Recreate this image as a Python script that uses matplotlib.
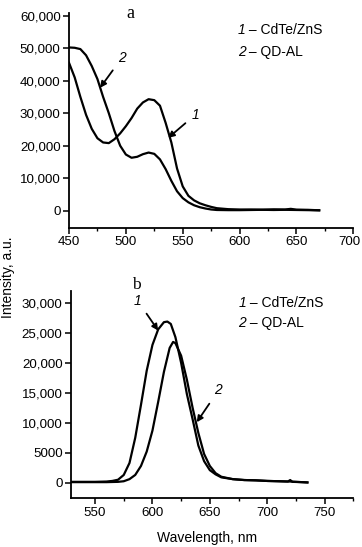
import matplotlib
matplotlib.use("Agg")
import matplotlib.pyplot as plt
import matplotlib.transforms as mtrans
from matplotlib.ticker import MultipleLocator

plt.rcParams["font.family"] = ["Liberation Sans", "DejaVu Sans"]

# --- panel a: absorption ---
abs_wl_1 = [450, 455, 460, 465, 470, 475, 480, 485, 490, 495, 500, 505, 510, 515,
            520, 525, 530, 535, 540, 545, 550, 555, 560, 565, 570, 575, 580, 590,
            600, 610, 620, 630, 640, 645, 650, 660, 670]
abs_cdte = [45500, 41000, 35000, 29500, 25200, 22300, 21000, 20800, 22000, 23800,
            26000, 28500, 31400, 33300, 34300, 34000, 32300, 27000, 21000, 13000,
            7500, 4600, 3200, 2300, 1700, 1200, 800, 500, 400, 400, 350, 450, 400,
            600, 350, 300, 150]
abs_wl_2 = [450, 455, 460, 465, 470, 475, 480, 485, 490, 495, 500, 505, 510, 515,
            520, 525, 530, 535, 540, 545, 550, 555, 560, 565, 570, 575, 580, 590,
            600, 610, 620, 630, 640, 650, 660, 670]
abs_qdal = [50200, 50100, 49700, 47800, 44500, 40500, 35000, 30000, 24500, 20000,
            17300, 16300, 16600, 17400, 17900, 17500, 15800, 12800, 9200, 6000,
            3900, 2600, 1700, 1100, 700, 400, 250, 200, 200, 250, 300, 250, 300,
            250, 200, 150]

# --- panel b: emission ---
em_wl_1 = [529, 540, 550, 560, 565, 570, 575, 580, 585, 590, 595, 600, 605, 610,
           613, 616, 620, 625, 630, 635, 640, 645, 650, 655, 660, 670, 680, 690,
           700, 710, 718, 720, 722, 730, 735]
em_cdte = [150, 150, 150, 200, 300, 500, 1300, 3300, 7500, 13000, 18700, 23000,
           25600, 26800, 26900, 26500, 24300, 20000, 14800, 10600, 6200, 3600,
           2100, 1400, 900, 600, 450, 400, 300, 250, 200, 450, 150, 100, 50]
em_wl_2 = [529, 550, 560, 570, 575, 580, 585, 590, 595, 600, 605, 610, 615, 618,
           620, 625, 630, 635, 640, 645, 650, 655, 660, 670, 680, 690, 700, 710,
           720, 730, 735]
em_qdal = [100, 100, 100, 150, 250, 600, 1300, 2800, 5200, 8700, 13500, 18500,
           22500, 23500, 23300, 21200, 17200, 12500, 8300, 4800, 2800, 1600, 1000,
           600, 450, 400, 300, 250, 200, 100, 50]

yticks_a = [0, 10000, 20000, 30000, 40000, 50000, 60000]
ylabels_a = ["0", "10,000", "20,000", "30,000", "40,000", "50,000", "60,000"]
yticks_b = [0, 5000, 10000, 15000, 20000, 25000, 30000]
ylabels_b = ["0", "5000", "10,000", "15,000", "20,000", "25,000", "30,000"]
xticks_a = [450, 500, 550, 600, 650, 700]
xticks_b = [550, 600, 650, 700, 750]
names = ["CdTe/ZnS", "QD-AL"]


def style_axes(ax):
    for side in ("top", "right"):
        ax.spines[side].set_visible(False)
    for side in ("left", "bottom"):
        ax.spines[side].set_linewidth(1.3)
    ax.tick_params(which="major", direction="out", length=4.5, width=1.1,
                   labelsize=9.6, pad=1.5)
    ax.tick_params(which="minor", direction="out", length=2.5, width=1.0)
    ax.xaxis.set_minor_locator(MultipleLocator(25))


def legend_text(ax, y0, y1):
    for num, name, y in ((1, names[0], y0), (2, names[1], y1)):
        ax.text(0.593, y, str(num), transform=ax.transAxes, fontsize=10,
                style="italic", va="center", ha="left")
        ax.annotate(" \u2013 " + name, xy=(0.593, y), xycoords="axes fraction",
                    xytext=(5.6, 0), textcoords="offset points", fontsize=10,
                    va="center", ha="left")


def arrow(ax, label, tip, txt):
    ax.annotate(label, xy=tip, xytext=txt, fontsize=10, style="italic",
                ha="center", va="center",
                arrowprops=dict(arrowstyle="-|>", color="k", lw=1.3,
                                mutation_scale=9, shrinkA=3, shrinkB=0))


fig = plt.figure(figsize=(3.62, 5.47), dpi=100)
ax1 = fig.add_axes([0.1906, 0.5837, 0.7854, 0.392])
ax2 = fig.add_axes([0.196, 0.089, 0.780, 0.379])

# panel a
ax1.plot(abs_wl_1, abs_cdte, color="k", lw=1.6)
ax1.plot(abs_wl_2, abs_qdal, color="k", lw=1.6)
ax1.set_xlim(450, 700)
ax1.set_ylim(-5200, 60700)
ax1.set_xticks(xticks_a)
ax1.set_yticks(yticks_a)
ax1.set_yticklabels(ylabels_a)
style_axes(ax1)
legend_text(ax1, 0.922, 0.821)
arrow(ax1, "2", (477.3, 37800), (496.5, 47000))
arrow(ax1, "1", (537.2, 22400), (561.0, 29500))
ax1.text(503.6, 60700, "a", family=["Liberation Serif", "DejaVu Serif"],
         fontsize=13, ha="center", va="center", clip_on=False)

# last x label of panel a sits a little left of its tick so it is not cut
last = ax1.get_xticklabels()[-1]
last.set_transform(last.get_transform()
                   + mtrans.ScaledTranslation(-4 / 100, 0, fig.dpi_scale_trans))

# panel b
ax2.plot(em_wl_1, em_cdte, color="k", lw=1.6)
ax2.plot(em_wl_2, em_qdal, color="k", lw=1.6)
ax2.set_xlim(529, 775)
ax2.set_ylim(-2600, 32000)
ax2.set_xticks(xticks_b)
ax2.set_yticks(yticks_b)
ax2.set_yticklabels(ylabels_b)
style_axes(ax2)
legend_text(ax2, 0.941, 0.844)
arrow(ax2, "1", (605.0, 25400), (587.0, 30400))
arrow(ax2, "2", (638.6, 10100), (657.4, 15400))
ax2.text(585.7, 33000, "b", family=["Liberation Serif", "DejaVu Serif"],
         fontsize=12.5, ha="center", va="center", clip_on=False)

fig.text(0.022, 0.494, "Intensity, a.u.", rotation=90, fontsize=10,
         ha="center", va="center")
fig.text(0.571, 0.016, "Wavelength, nm", fontsize=10, ha="center", va="center")

fig.savefig("out.png", dpi=100)
plt.close(fig)
